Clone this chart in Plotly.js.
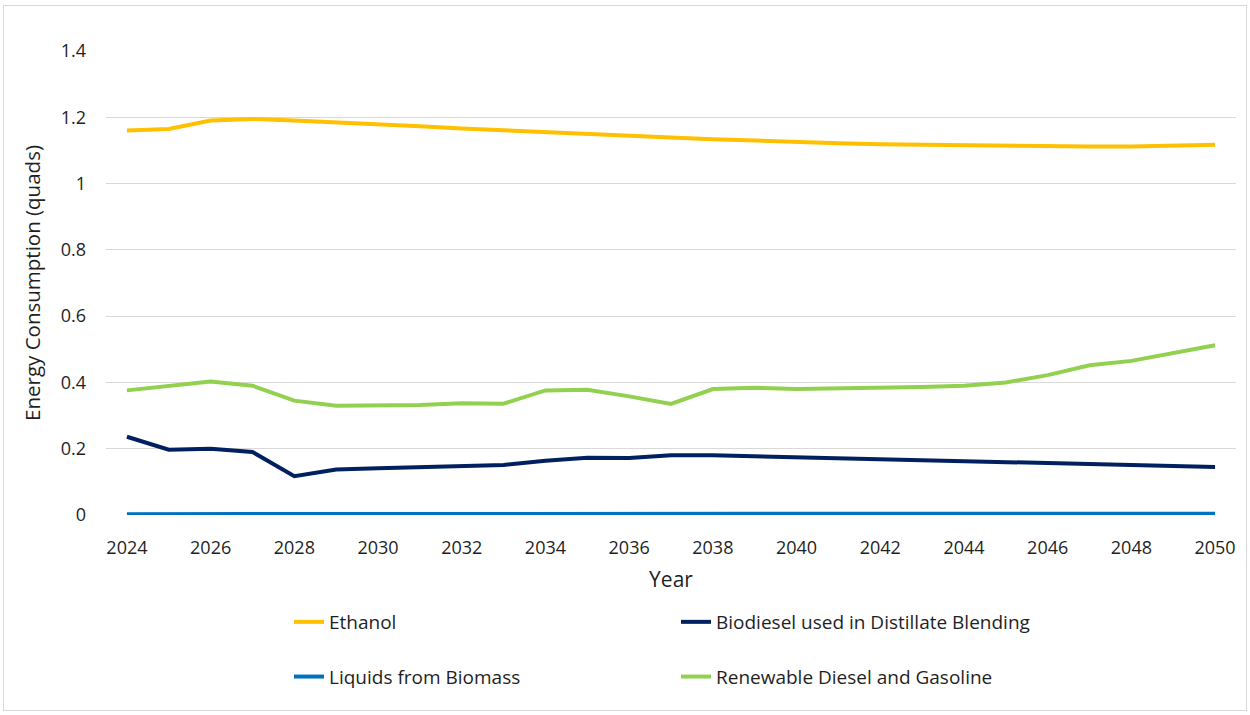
<!DOCTYPE html>
<html>
<head>
<meta charset="utf-8">
<script src="https://cdn.plot.ly/plotly-3.0.1.min.js"></script>
<style>
  html, body { margin: 0; padding: 0; background: #fff; }
  #wrap { position: relative; width: 1250px; height: 715px; }
  #chart { width: 1250px; height: 715px; }
  #frame { position: absolute; left: 3px; top: 5px; width: 1244px; height: 706px; border: 1px solid #D9D9D9; pointer-events: none; box-sizing: border-box; }
</style>
</head>
<body>
<div id="wrap">
  <div id="chart"></div>
  <div id="frame"></div>
</div>
<script>
const years = [2024,2025,2026,2027,2028,2029,2030,2031,2032,2033,2034,2035,2036,2037,2038,2039,2040,2041,2042,2043,2044,2045,2046,2047,2048,2049,2050];
const ethanol = [1.160,1.165,1.190,1.195,1.190,1.185,1.178,1.173,1.166,1.160,1.156,1.151,1.145,1.139,1.134,1.129,1.125,1.122,1.119,1.117,1.115,1.114,1.112,1.112,1.112,1.113,1.117];
const biodiesel = [0.236,0.197,0.200,0.190,0.117,0.137,0.141,0.144,0.145,0.151,0.164,0.173,0.172,0.180,0.180,0.177,0.174,0.171,0.169,0.166,0.163,0.161,0.158,0.155,0.152,0.149,0.145];
const liquidsBiomass = [0.002,0.003,0.003,0.003,0.003,0.003,0.003,0.003,0.003,0.003,0.003,0.003,0.003,0.003,0.003,0.003,0.003,0.003,0.003,0.003,0.003,0.003,0.003,0.003,0.003,0.004,0.004];
const renewable = [0.376,0.389,0.403,0.390,0.345,0.330,0.330,0.332,0.337,0.336,0.376,0.378,0.358,0.335,0.380,0.384,0.380,0.381,0.385,0.386,0.390,0.400,0.422,0.452,0.465,0.488,0.512];
const xTicks = [2024,2026,2028,2030,2032,2034,2036,2038,2040,2042,2044,2046,2048,2050];

const FONT = 'Open Sans, Noto Sans, Arial, sans-serif';
const TXT = '#1f1f1f';
const lw = 4;
const traces = [
  {x: years, y: ethanol, name: 'Ethanol', type: 'scatter', mode: 'lines', line: {color: '#FFC000', width: lw}, legend: 'legend', legendgroup: 'a'},
  {x: years, y: biodiesel, name: 'Biodiesel used in Distillate Blending', type: 'scatter', mode: 'lines', line: {color: '#002060', width: lw}, legend: 'legend2', legendgroup: 'b'},
  {x: years, y: liquidsBiomass, name: 'Liquids from Biomass', type: 'scatter', mode: 'lines', line: {color: '#0070C0', width: lw}, legend: 'legend', legendgroup: 'c'},
  {x: years, y: renewable, name: 'Renewable Diesel and Gasoline', type: 'scatter', mode: 'lines', line: {color: '#92D050', width: lw}, legend: 'legend2', legendgroup: 'd'}
];

const legendCommon = {
  orientation: 'v', yanchor: 'top', xanchor: 'left',
  font: {family: FONT, size: 19, color: TXT},
  tracegroupgap: 27, bgcolor: 'rgba(0,0,0,0)', itemwidth: 30
};

const layout = {
  width: 1250, height: 715,
  margin: {l: 106, r: 14, t: 51, b: 200},
  paper_bgcolor: '#fff', plot_bgcolor: '#fff',
  font: {family: FONT, color: TXT},
  showlegend: true,
  xaxis: {
    range: [2023.5, 2050.5], tickvals: xTicks, ticktext: xTicks.map(String),
    showgrid: false, zeroline: false, showline: false, ticks: '',
    tickfont: {family: FONT, size: 18, color: TXT},
    ticklabelstandoff: 20,
    title: {text: 'Year', font: {family: FONT, size: 21, color: TXT}, standoff: 14}
  },
  yaxis: {
    range: [0, 1.4], tickvals: [0,0.2,0.4,0.6,0.8,1,1.2,1.4], ticktext: ['0','0.2','0.4','0.6','0.8','1','1.2','1.4'],
    showgrid: true, gridcolor: '#D9D9D9', gridwidth: 1, zeroline: false, showline: false, ticks: '',
    tickfont: {family: FONT, size: 18, color: TXT},
    ticklabelstandoff: 19,
    title: {text: 'Energy Consumption (quads)', font: {family: FONT, size: 20.5, color: TXT}, standoff: 14}
  },
  legend: Object.assign({}, legendCommon, {x: (289 - 106) / 1130, y: (515 - 603) / 464}),
  legend2: Object.assign({}, legendCommon, {x: (676 - 106) / 1130, y: (515 - 603) / 464})
};

Plotly.newPlot('chart', traces, layout, {displayModeBar: false, staticPlot: true});
</script>
</body>
</html>
